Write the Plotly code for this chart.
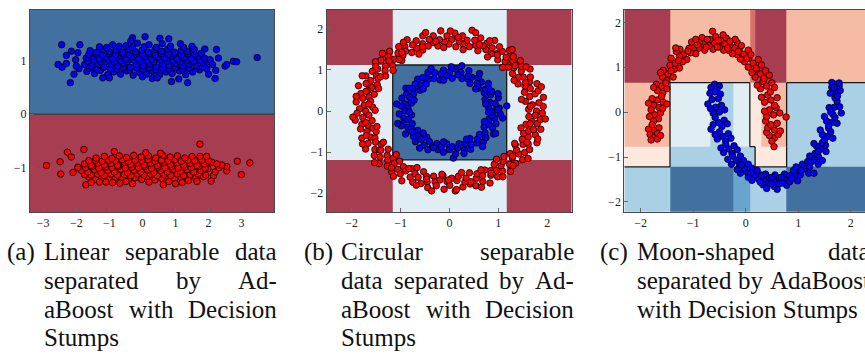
import numpy as np
import plotly.graph_objects as go

W, H = 865, 360

# ---------------------------------------------------------------- data
# (a) linearly separable blobs: (x, y) samples
lin_blue = [
    (-1.68, 0.80), (-1.45, 0.76), (-1.27, 0.82), (-1.05, 0.74), (-0.86, 0.79), (-0.66, 0.75), (-0.47, 0.81),
    (-0.28, 0.73), (-0.08, 0.78), (0.12, 0.75), (0.31, 0.80), (0.52, 0.74), (0.71, 0.79), (0.90, 0.76),
    (1.12, 0.81), (1.31, 0.74), (1.52, 0.79), (1.73, 0.83), (1.95, 0.85),
    (-1.60, 0.86), (-1.38, 0.84), (-1.18, 0.87), (-0.97, 0.85), (-0.77, 0.84), (-0.57, 0.87), (-0.38, 0.83),
    (-0.18, 0.86), (0.02, 0.84), (0.21, 0.87), (0.41, 0.83), (0.61, 0.86), (0.80, 0.84), (1.00, 0.87),
    (1.21, 0.84), (1.41, 0.86), (1.62, 0.85), (1.82, 0.88),
    (-1.75, 0.93), (-1.56, 0.90), (-1.36, 0.95), (-1.16, 0.89), (-0.95, 0.93), (-0.76, 0.90), (-0.57, 0.95),
    (-0.37, 0.88), (-0.18, 0.93), (0.02, 0.90), (0.22, 0.94), (0.42, 0.89), (0.62, 0.93), (0.81, 0.91),
    (1.02, 0.95), (1.22, 0.90), (1.42, 0.94), (1.62, 0.91), (1.84, 0.96),
    (-1.65, 0.99), (-1.45, 1.00), (-1.25, 0.98), (-1.05, 1.01), (-0.85, 0.98), (-0.65, 1.00), (-0.46, 0.98),
    (-0.26, 1.01), (-0.06, 0.99), (0.14, 1.00), (0.34, 0.98), (0.54, 1.01), (0.74, 0.99), (0.94, 1.00),
    (1.14, 0.98), (1.34, 1.01), (1.55, 0.99), (1.76, 1.00), (1.97, 0.98),
    (-1.70, 1.05), (-1.50, 1.08), (-1.30, 1.03), (-1.10, 1.07), (-0.90, 1.04), (-0.70, 1.09), (-0.50, 1.03),
    (-0.31, 1.07), (-0.11, 1.04), (0.08, 1.08), (0.28, 1.03), (0.48, 1.07), (0.67, 1.05), (0.87, 1.09),
    (1.07, 1.03), (1.27, 1.06), (1.47, 1.04), (1.67, 1.08), (1.88, 1.05),
    (-1.62, 1.12), (-1.42, 1.13), (-1.21, 1.11), (-1.01, 1.13), (-0.81, 1.12), (-0.61, 1.13), (-0.41, 1.11),
    (-0.21, 1.13), (0.00, 1.12), (0.19, 1.13), (0.39, 1.11), (0.58, 1.13), (0.78, 1.12), (0.98, 1.13),
    (1.18, 1.11), (1.38, 1.13), (1.58, 1.12), (1.78, 1.14),
    (-1.58, 1.19), (-1.38, 1.16), (-1.19, 1.21), (-0.99, 1.17), (-0.80, 1.20), (-0.60, 1.16), (-0.41, 1.22),
    (-0.21, 1.17), (-0.01, 1.20), (0.18, 1.16), (0.38, 1.21), (0.58, 1.18), (0.77, 1.22), (0.97, 1.16),
    (1.17, 1.19), (1.37, 1.17), (1.57, 1.21),
    (-1.30, 1.26), (-1.08, 1.25), (-0.70, 1.27), (-0.30, 1.25), (0.05, 1.26), (0.42, 1.25), (0.85, 1.27),
    (1.25, 1.25), (1.50, 1.27),
    (-2.55, 0.93), (-2.44, 1.30), (-2.43, 0.88), (-2.30, 0.95), (-2.18, 0.59), (-2.15, 1.18), (-2.07, 0.75),
    (-2.02, 1.02), (-1.89, 1.30), (-1.92, 0.85), (-0.30, 1.43), (0.08, 1.45), (0.53, 1.42), (0.80, 1.41),
    (1.15, 1.32), (0.88, 0.61), (1.37, 0.59), (1.89, 1.22), (2.24, 1.21), (2.05, 1.02), (2.12, 0.93),
    (2.20, 0.67), (2.22, 0.82), (2.50, 0.90), (2.55, 0.93), (2.75, 0.99), (2.85, 0.98), (3.47, 1.06),
    (-1.00, 0.68), (0.00, 0.70), (-0.90, 1.30), (-0.50, 1.28), (0.20, 1.30), (0.60, 1.32), (-1.20, 0.68),
    (0.30, 0.67), (1.10, 0.66), (-0.15, 1.33), (-0.35, 1.37), (0.45, 0.68),
    (-2.30, 1.10), (-2.00, 0.90), (-1.95, 1.15), (2.00, 0.75), (2.30, 1.05),
]
lin_red = [
    (-1.62, -1.18), (-1.42, -1.22), (-1.22, -1.19), (-1.02, -1.23), (-0.82, -1.18), (-0.62, -1.21),
    (-0.42, -1.24), (-0.22, -1.19), (-0.02, -1.22), (0.18, -1.18), (0.38, -1.23), (0.58, -1.20),
    (0.78, -1.17), (0.98, -1.22), (1.18, -1.19), (1.40, -1.16), (1.62, -1.20), (1.85, -1.17),
    (-1.75, -1.13), (-1.55, -1.14), (-1.35, -1.12), (-1.15, -1.15), (-0.95, -1.12), (-0.75, -1.14),
    (-0.55, -1.13), (-0.35, -1.15), (-0.15, -1.12), (0.05, -1.14), (0.25, -1.12), (0.45, -1.15),
    (0.65, -1.13), (0.85, -1.14), (1.05, -1.12), (1.25, -1.15), (1.45, -1.13), (1.68, -1.12),
    (1.92, -1.14), (2.15, -1.15),
    (-1.85, -1.05), (-1.65, -1.08), (-1.45, -1.04), (-1.25, -1.09), (-1.05, -1.05), (-0.85, -1.08),
    (-0.65, -1.03), (-0.45, -1.09), (-0.25, -1.05), (-0.05, -1.08), (0.15, -1.04), (0.35, -1.09),
    (0.55, -1.05), (0.75, -1.08), (0.95, -1.03), (1.15, -1.07), (1.35, -1.04), (1.55, -1.08),
    (1.75, -1.05), (1.98, -1.02), (2.20, -1.08),
    (-1.95, -0.99), (-1.72, -1.00), (-1.52, -0.98), (-1.32, -1.01), (-1.12, -0.99), (-0.92, -1.00),
    (-0.72, -0.98), (-0.52, -1.01), (-0.32, -0.99), (-0.12, -1.00), (0.08, -0.98), (0.28, -1.01),
    (0.48, -0.99), (0.68, -1.00), (0.88, -0.98), (1.08, -1.01), (1.28, -0.99), (1.48, -1.00),
    (1.70, -0.98), (1.90, -1.01), (2.32, -1.00),
    (-1.75, -0.93), (-1.55, -0.96), (-1.35, -0.91), (-1.15, -0.95), (-0.95, -0.92), (-0.75, -0.96),
    (-0.55, -0.90), (-0.35, -0.94), (-0.15, -0.91), (0.05, -0.95), (0.25, -0.92), (0.45, -0.96),
    (0.65, -0.90), (0.85, -0.94), (1.05, -0.91), (1.25, -0.95), (1.45, -0.92), (1.65, -0.96),
    (1.87, -0.93), (2.10, -0.90),
    (-1.62, -0.87), (-1.42, -0.86), (-1.22, -0.88), (-1.02, -0.86), (-0.82, -0.87), (-0.62, -0.85),
    (-0.42, -0.88), (-0.22, -0.86), (-0.02, -0.87), (0.18, -0.85), (0.38, -0.88), (0.58, -0.86),
    (0.78, -0.87), (0.98, -0.85), (1.18, -0.88), (1.38, -0.86), (1.58, -0.87), (1.80, -0.86), (2.00, -0.87),
    (-1.40, -0.82), (-1.15, -0.79), (-0.92, -0.83), (-0.70, -0.78), (-0.48, -0.81), (-0.26, -0.77),
    (-0.04, -0.80), (0.18, -0.78), (0.40, -0.82), (0.62, -0.77), (0.84, -0.80), (1.06, -0.78),
    (1.28, -0.82), (1.50, -0.79),
    (-1.30, -1.27), (-0.90, -1.28), (-0.50, -1.26), (0.20, -1.27), (0.80, -1.26), (1.20, -1.28), (1.65, -1.26),
    (-2.90, -0.96), (-2.47, -1.12), (-2.49, -0.89), (-2.27, -0.71), (-2.10, -1.09), (-2.15, -0.80),
    (-1.77, -0.66), (-1.71, -1.32), (1.74, -0.56), (2.87, -0.88), (3.25, -0.91), (2.99, -1.13),
    (2.08, -1.25), (2.55, -1.06), (2.55, -0.98), (2.40, -0.95), (0.63, -1.32), (1.39, -1.24),
    (-0.68, -1.29), (-1.10, -1.27), (1.94, -0.79), (1.74, -0.79), (-0.85, -0.70), (0.10, -0.72),
    (0.55, -0.73), (-1.55, -1.28), (1.00, -1.30), (-0.30, -1.30), (2.25, -0.93), (-1.95, -1.00),
]

# (b) concentric rings, stored as (angle in degrees, radius)
ring_outer = [
    (0, 1.78), (1.4, 1.62), (3.3, 1.92), (5.1, 1.70), (6.2, 1.84), (8.6, 1.57), (9.8, 1.95), (12.1, 1.68),
    (13.4, 1.80), (15.2, 1.88), (16.5, 1.60), (18.3, 1.74), (20.4, 1.91), (21.6, 1.66), (23.5, 1.79),
    (25.2, 1.55), (26.6, 1.85), (28.7, 1.72), (30.1, 1.63), (31.8, 1.94), (33.5, 1.76), (35.3, 1.58),
    (36.4, 1.83), (38.6, 1.69), (40.2, 1.90), (41.5, 1.61), (43.3, 1.78), (45.4, 1.86), (46.7, 1.66),
    (48.5, 1.75), (50.3, 1.92), (51.6, 1.59), (53.4, 1.81), (55.2, 1.70), (56.8, 1.87), (58.3, 1.64),
    (60.4, 1.77), (61.7, 1.95), (63.5, 1.67), (65.1, 1.82), (66.6, 1.73), (68.4, 1.58), (70.2, 1.89),
    (71.5, 1.69), (73.3, 1.80), (75.4, 1.62), (76.8, 2.02), (78.2, 1.76), (80.5, 1.66), (81.7, 1.85),
    (83.4, 1.71), (85.2, 1.57), (86.6, 1.90), (88.5, 1.74), (90.3, 1.63), (91.6, 1.83), (93.5, 1.68),
    (95.2, 1.96), (96.7, 1.75), (98.4, 1.60), (100.3, 1.86), (101.5, 1.70), (103.4, 1.79), (105.3, 1.64),
    (106.6, 1.91), (108.5, 1.73), (110.2, 1.58), (111.7, 1.84), (113.6, 1.67), (115.1, 1.78),
    (116.5, 1.94), (118.4, 1.62), (120.2, 1.81), (121.6, 1.71), (123.5, 1.88), (125.3, 1.65),
    (126.7, 1.76), (128.4, 1.57), (130.1, 1.90), (131.7, 1.69), (133.5, 1.82), (135.2, 1.74),
    (136.6, 1.60), (138.5, 1.87), (140.3, 1.70), (141.6, 1.93), (143.4, 1.64), (145.1, 1.79),
    (146.8, 1.56), (148.5, 1.85), (150.2, 1.72), (151.6, 1.66), (153.4, 1.91), (155.3, 1.77),
    (156.6, 1.61), (158.5, 1.83), (160.2, 1.69), (161.7, 1.96), (163.4, 1.74), (165.2, 1.59),
    (166.8, 1.86), (168.3, 1.68), (170.1, 1.80), (171.6, 1.63), (173.4, 1.92), (175.3, 1.75),
    (176.7, 1.57), (178.4, 1.84), (180.2, 1.71), (181.6, 1.89), (183.5, 1.65), (185.2, 1.78),
    (186.6, 1.94), (188.4, 1.60), (190.3, 1.82), (191.7, 1.70), (193.5, 1.87), (195.1, 1.62),
    (196.6, 1.76), (198.5, 1.58), (200.2, 1.91), (201.6, 1.73), (203.4, 1.66), (205.3, 1.84),
    (206.7, 1.69), (208.4, 1.95), (210.2, 1.61), (211.6, 1.79), (213.5, 1.72), (215.2, 1.88),
    (216.6, 1.56), (218.4, 1.81), (220.3, 1.67), (221.7, 1.93), (223.5, 1.74), (225.1, 1.63),
    (226.6, 1.85), (228.5, 1.70), (230.2, 1.59), (231.6, 1.90), (233.4, 1.77), (235.3, 1.65),
    (236.7, 1.83), (238.4, 1.71), (240.2, 1.96), (241.6, 1.60), (243.5, 1.80), (245.2, 1.68),
    (246.6, 1.89), (248.4, 1.74), (250.3, 1.57), (251.7, 1.86), (253.5, 1.66), (255.2, 1.79),
    (256.6, 1.92), (258.5, 1.62), (260.3, 1.75), (261.6, 1.84), (263.4, 1.69), (265.2, 1.58),
    (266.7, 1.91), (268.4, 1.72), (270.2, 1.81), (271.6, 1.64), (273.5, 1.95), (275.2, 1.70),
    (276.6, 1.60), (278.5, 1.87), (280.3, 1.76), (281.7, 1.67), (283.4, 1.83), (285.2, 1.56),
    (286.6, 1.90), (288.5, 1.73), (290.2, 1.63), (291.6, 1.85), (293.4, 1.71), (295.3, 1.94),
    (296.7, 1.61), (298.4, 1.78), (300.2, 1.68), (301.6, 1.88), (303.5, 1.74), (305.2, 1.59),
    (306.6, 1.82), (308.4, 1.70), (310.3, 1.93), (311.7, 1.65), (313.5, 1.79), (315.2, 1.57),
    (316.6, 1.86), (318.4, 1.72), (320.2, 1.62), (321.6, 1.91), (323.5, 1.76), (325.3, 1.67),
    (326.7, 1.84), (328.4, 1.58), (330.2, 1.89), (331.6, 1.71), (333.4, 1.80), (335.2, 1.64),
    (336.6, 1.95), (338.5, 1.73), (340.3, 1.61), (341.7, 1.85), (343.4, 1.69), (345.2, 1.78),
    (346.6, 1.92), (348.4, 1.60), (350.3, 1.82), (351.6, 1.70), (353.5, 1.87), (355.2, 1.63),
    (356.6, 1.76), (358.4, 1.90),
    (4.0, 1.66), (10.8, 1.50), (17.4, 1.97), (24.0, 1.70), (29.5, 1.52), (34.4, 1.90), (39.5, 1.74),
    (44.3, 1.52), (49.4, 1.97), (54.3, 1.68), (59.4, 1.53), (64.3, 1.90), (69.3, 1.73), (74.3, 1.98),
    (79.4, 1.52), (84.3, 1.80), (89.4, 1.95), (94.3, 1.55), (99.4, 1.72), (104.3, 1.97), (109.4, 1.66),
    (114.3, 1.52), (119.4, 1.92), (124.3, 1.73), (129.4, 1.62), (134.3, 1.96), (139.4, 1.52),
    (144.3, 1.86), (149.4, 1.64), (154.3, 1.98), (159.4, 1.55), (164.3, 1.77), (169.4, 1.94),
    (174.3, 1.66), (179.4, 1.52), (184.3, 1.98), (189.4, 1.73), (194.3, 1.53), (199.4, 1.80),
    (204.3, 1.95), (209.4, 1.55), (214.3, 1.70), (219.4, 1.98), (224.3, 1.52), (229.4, 1.82),
    (234.3, 1.96), (239.4, 1.63), (244.3, 1.53), (249.4, 1.93), (254.3, 1.72), (259.4, 1.98),
    (264.3, 1.55), (269.4, 1.68), (274.3, 1.92), (279.4, 1.52), (284.3, 1.78), (289.4, 1.97),
    (294.3, 1.57), (299.4, 1.74), (304.3, 1.94), (309.4, 1.52), (314.3, 1.86), (319.4, 1.70),
    (324.3, 1.98), (329.4, 1.55), (334.3, 1.76), (339.4, 1.93), (344.3, 1.52), (349.4, 1.68),
    (354.3, 1.97),
]
ring_inner = [
    (0, 0.90), (4, 1.02), (6, 1.18), (7, 0.80), (11, 0.95), (14, 0.86), (18, 1.05), (21, 0.78), (25, 0.93),
    (29, 0.99), (32, 0.84), (36, 0.91), (40, 1.04), (43, 0.81), (47, 0.96), (50, 0.88), (54, 1.01),
    (58, 0.79), (61, 0.94), (65, 0.87), (68, 1.06), (72, 0.83), (76, 0.97), (77, 1.13), (79, 0.90),
    (83, 1.03), (86, 0.80), (90, 0.95), (94, 0.86), (97, 1.00), (101, 0.92), (104, 0.78), (108, 0.98),
    (112, 0.85), (115, 1.04), (119, 0.89), (122, 0.94), (126, 0.81), (130, 1.01), (133, 0.87),
    (137, 0.96), (140, 0.79), (144, 0.92), (148, 1.05), (151, 0.84), (155, 0.97), (158, 0.88),
    (162, 1.02), (166, 0.80), (169, 0.93), (173, 0.99), (176, 0.85), (180, 0.91), (184, 1.03),
    (187, 0.78), (191, 0.95), (194, 0.87), (198, 1.00), (200, 1.05), (202, 0.82), (205, 0.94),
    (209, 0.89), (212, 1.06), (216, 0.80), (220, 0.96), (223, 0.86), (227, 1.02), (230, 0.90),
    (234, 0.79), (238, 0.98), (241, 0.85), (245, 1.04), (248, 0.92), (252, 0.83), (256, 0.97),
    (259, 0.88), (263, 1.01), (266, 0.80), (270, 0.94), (274, 1.15), (274, 0.87), (277, 1.05),
    (281, 0.91), (284, 0.82), (288, 0.99), (292, 0.86), (295, 1.03), (299, 0.93), (302, 0.79),
    (306, 0.96), (310, 0.89), (313, 1.02), (317, 0.84), (320, 0.95), (324, 0.90), (328, 1.06),
    (331, 0.81), (335, 0.97), (338, 0.87), (342, 1.00), (346, 0.83), (349, 0.94), (353, 0.88),
    (356, 1.04),
    (2, 0.98), (13, 0.76), (23, 1.08), (34, 0.97), (45, 0.76), (56, 1.10), (66, 0.93), (88, 1.08),
    (99, 0.76), (110, 1.10), (124, 0.98), (135, 0.76), (146, 0.99), (160, 0.77), (171, 1.09), (182, 0.82),
    (196, 1.10), (214, 0.92), (225, 0.76), (236, 1.09), (250, 0.95), (261, 0.76), (286, 1.08), (297, 0.77),
    (308, 1.10), (319, 0.99), (330, 1.09), (340, 0.76), (351, 1.10), (358, 0.80),
]

# (c) two interleaving moons: (x, y) samples
moon_red = [
    (0.55, -0.57), (0.45, -0.52), (0.62, -0.50), (0.50, -0.65), (0.40, -0.45), (0.54, -0.77),
    (0.55, -0.40), (0.42, -0.35), (0.66, -0.42), (0.48, -0.28), (0.60, -0.25), (0.38, -0.20),
    (0.53, -0.06), (0.40, -0.10), (0.65, -0.02), (0.45, 0.05), (0.77, -0.11), (0.58, 0.10), (0.36, 0.02),
    (0.48, 0.27), (0.36, 0.22), (0.60, 0.32), (0.42, 0.38), (0.55, 0.15), (0.30, 0.33),
    (0.40, 0.58), (0.28, 0.52), (0.50, 0.65), (0.33, 0.68), (0.47, 0.45), (0.22, 0.60), (0.55, 0.55),
    (0.28, 0.85), (0.18, 0.78), (0.38, 0.92), (0.20, 0.95), (0.35, 0.75), (0.12, 0.88), (0.45, 0.82),
    (0.14, 1.09), (0.05, 1.00), (0.24, 1.17), (0.06, 1.20), (0.20, 0.98), (-0.02, 1.12), (0.30, 1.05),
    (-0.03, 1.29), (-0.10, 1.18), (0.05, 1.38), (-0.12, 1.40), (0.02, 1.20), (-0.16, 1.28), (0.10, 1.28),
    (-0.21, 1.43), (-0.25, 1.30), (-0.16, 1.55), (-0.30, 1.50), (-0.14, 1.35), (-0.33, 1.38),
    (-0.08, 1.48), (-0.20, 1.62),
    (-0.40, 1.52), (-0.42, 1.38), (-0.37, 1.65), (-0.48, 1.60), (-0.34, 1.42), (-0.50, 1.45),
    (-0.30, 1.58), (-0.43, 1.72),
    (-0.60, 1.55), (-0.62, 1.40), (-0.57, 1.68), (-0.68, 1.62), (-0.54, 1.45), (-0.70, 1.48),
    (-0.52, 1.60), (-0.63, 1.80),
    (-0.80, 1.52), (-0.78, 1.38), (-0.83, 1.66), (-0.88, 1.55), (-0.73, 1.62), (-0.90, 1.42), (-0.75, 1.45),
    (-0.99, 1.43), (-0.95, 1.30), (-1.03, 1.56), (-1.08, 1.42), (-0.92, 1.50), (-1.05, 1.32), (-0.95, 1.62),
    (-1.18, 1.29), (-1.12, 1.17), (-1.25, 1.40), (-1.26, 1.24), (-1.10, 1.36), (-1.20, 1.12), (-1.32, 1.35),
    (-1.34, 1.09), (-1.26, 0.98), (-1.42, 1.20), (-1.44, 1.04), (-1.28, 1.15), (-1.36, 0.95), (-1.33, 1.43),
    (-1.48, 0.85), (-1.38, 0.78), (-1.57, 0.93), (-1.58, 0.78), (-1.42, 0.92), (-1.50, 0.70), (-1.62, 0.88),
    (-1.60, 0.58), (-1.50, 0.52), (-1.70, 0.62), (-1.68, 0.48), (-1.52, 0.65), (-1.58, 0.42), (-1.75, 0.55),
    (-1.68, 0.27), (-1.57, 0.22), (-1.78, 0.30), (-1.75, 0.15), (-1.60, 0.35), (-1.65, 0.10), (-1.85, 0.20),
    (-1.50, 0.18),
    (-1.73, -0.06), (-1.62, -0.02), (-1.83, -0.10), (-1.80, 0.05), (-1.66, -0.15), (-1.75, -0.20),
    (-1.58, 0.08),
    (-1.75, -0.40), (-1.65, -0.35), (-1.85, -0.38), (-1.78, -0.28), (-1.68, -0.48), (-1.82, -0.50),
    (-1.75, -0.57), (-1.68, -0.60), (-1.80, -0.62), (-1.62, -0.52),
]
moon_blue = [
    (-0.59, 0.62), (-0.50, 0.58), (-0.66, 0.55), (-0.55, 0.50),
    (-0.59, 0.45), (-0.48, 0.40), (-0.68, 0.42), (-0.52, 0.30), (-0.64, 0.28),
    (-0.57, 0.11), (-0.46, 0.15), (-0.67, 0.08), (-0.50, 0.00), (-0.62, -0.02), (-0.40, 0.05), (-0.72, 0.18),
    (-0.52, -0.23), (-0.41, -0.18), (-0.62, -0.28), (-0.45, -0.32), (-0.58, -0.12), (-0.35, -0.26),
    (-0.66, -0.38),
    (-0.44, -0.54), (-0.33, -0.48), (-0.54, -0.60), (-0.38, -0.64), (-0.50, -0.44), (-0.28, -0.58),
    (-0.58, -0.50),
    (-0.32, -0.82), (-0.22, -0.75), (-0.42, -0.90), (-0.26, -0.92), (-0.38, -0.72), (-0.16, -0.84),
    (-0.47, -0.80),
    (-0.18, -1.07), (-0.10, -0.98), (-0.27, -1.16), (-0.12, -1.16), (-0.25, -0.98), (-0.04, -1.08),
    (-0.34, -1.05),
    (-0.02, -1.26), (0.05, -1.16), (-0.10, -1.36), (0.04, -1.36), (-0.08, -1.18), (0.12, -1.25),
    (-0.16, -1.28),
    (0.17, -1.41), (0.22, -1.30), (0.12, -1.52), (0.25, -1.50), (0.10, -1.35), (0.30, -1.40), (0.05, -1.45),
    (0.36, -1.50), (0.38, -1.38), (0.33, -1.62), (0.44, -1.58), (0.30, -1.42), (0.46, -1.46), (0.28, -1.56),
    (0.40, -1.70),
    (0.56, -1.53), (0.56, -1.40), (0.55, -1.66), (0.63, -1.60), (0.50, -1.45), (0.64, -1.47), (0.48, -1.60),
    (0.60, -1.72),
    (0.76, -1.50), (0.74, -1.38), (0.78, -1.63), (0.84, -1.55), (0.70, -1.58), (0.84, -1.42), (0.68, -1.45),
    (0.95, -1.41), (0.91, -1.30), (0.99, -1.53), (1.04, -1.40), (0.88, -1.48), (1.02, -1.30), (0.96, -1.22),
    (1.14, -1.26), (1.08, -1.16), (1.20, -1.36), (1.22, -1.22), (1.06, -1.30), (1.18, -1.10), (1.30, -1.36),
    (1.30, -1.07), (1.22, -0.98), (1.38, -1.16), (1.39, -1.00), (1.24, -1.12), (1.32, -0.92), (1.46, -1.08),
    (1.44, -0.82), (1.35, -0.76), (1.53, -0.88), (1.52, -0.74), (1.38, -0.88), (1.46, -0.68), (1.30, -0.70),
    (1.56, -0.54), (1.46, -0.50), (1.66, -0.58), (1.62, -0.44), (1.50, -0.62), (1.58, -0.36), (1.42, -0.40),
    (1.64, -0.23), (1.54, -0.20), (1.74, -0.25), (1.70, -0.12), (1.58, -0.30), (1.66, -0.05), (1.50, -0.10),
    (1.69, 0.11), (1.59, 0.10), (1.79, 0.12), (1.74, 0.24), (1.62, 0.00), (1.70, 0.32), (1.82, -0.02),
    (1.71, 0.45), (1.61, 0.42), (1.80, 0.48), (1.75, 0.36), (1.64, 0.55), (1.78, 0.58),
    (1.71, 0.62), (1.64, 0.66), (1.78, 0.65), (1.68, 0.54),
]

# decision-function levels, 0 = strongly red ... 7 = strongly blue
level_colors = ["#a73d51", "#d7706c", "#f5bba5", "#fde8de",
                "#e0edf3", "#aad0e5", "#67a5cf", "#42709f"]

# stump partitions: cell edges (x, y) and level per cell (rows bottom -> top)
a_xe, a_ye = [-3.40, 3.98], [-1.83, 0.0, 1.95]
a_z = [[0], [7]]
b_xe, b_ye = [-2.51, -1.16, 1.17, 2.50], [-2.46, -1.19, 1.12, 2.46]
b_z = [[0, 4, 0], [4, 7, 4], [0, 4, 0]]
c_xe = [-2.31, -1.44, -0.67, -0.24, 0.08, 0.18, 0.30, 0.78, 2.40]
c_ye = [-2.23, -1.22, -0.77, 0.655, 2.28]
c_z = [[5, 7, 7, 6, 5, 5, 5, 7],
       [3, 5, 5, 5, 5, 3, 3, 5],
       [2, 4, 5, 4, 3, 3, 2, 5],
       [0, 2, 2, 2, 1, 0, 0, 2]]

x_ticks = {"a": [-3, -2, -1, 0, 1, 2, 3], "b": [-2, -1, 0, 1, 2], "c": [-2, -1, 0, 1, 2]}
y_ticks = {"a": [-1, 0, 1], "b": [-2, -1, 0, 1, 2], "c": [-2, -1, 0, 1, 2]}

captions = {
    "a": ["Linear separable data", "separated by Ad-", "aBoost with Decision", "Stumps"],
    "b": ["Circular separable", "data separated by Ad-", "aBoost with Decision", "Stumps"],
    "c": ["Moon-shaped data", "separated by AdaBoost", "with Decision Stumps"],
}

# ---------------------------------------------------------------- helpers
def step_scale(colors):
    n = len(colors)
    cs = []
    for i, c in enumerate(colors):
        cs += [[i / n, c], [(i + 1) / n, c]]
    return cs


def boundary(xe, ye, z, thr):
    xs, ys = [], []
    nr, nc = len(z), len(z[0])
    for r in range(nr):
        for c in range(nc):
            side = z[r][c] >= thr
            if c + 1 < nc and (z[r][c + 1] >= thr) != side:
                xs += [xe[c + 1], xe[c + 1], None]
                ys += [ye[r], ye[r + 1], None]
            if r + 1 < nr and (z[r + 1][c] >= thr) != side:
                xs += [xe[c], xe[c + 1], None]
                ys += [ye[r + 1], ye[r + 1], None]
    return xs, ys


def polar_xy(pts):
    ang = np.radians([p[0] for p in pts])
    rad = np.array([p[1] for p in pts])
    return rad * np.cos(ang), rad * np.sin(ang)


def split(pts):
    return [p[0] for p in pts], [p[1] for p in pts]


# Times / Liberation Serif advance widths (per 1000 em)
ADV = {"a": 444, "b": 500, "c": 444, "d": 500, "e": 444, "h": 500, "i": 278, "k": 500, "l": 278,
       "m": 778, "n": 500, "o": 500, "p": 500, "r": 333, "s": 389, "t": 278, "u": 500, "w": 722,
       "y": 500, "A": 722, "B": 667, "C": 667, "D": 722, "L": 611, "M": 889, "S": 556, "-": 333}


def text_w(s, size):
    return sum(ADV.get(ch, 500) for ch in s) * size / 1000.0


# ---------------------------------------------------------------- figure
fig = go.Figure()
cscale = step_scale(level_colors)

panels = [
    ("a", "x", "y", a_xe, a_ye, a_z, 4, (30, 274), (-3.40, 3.98), (-1.83, 1.95)),
    ("b", "x2", "y2", b_xe, b_ye, b_z, 6, (326.7, 571.7), (-2.51, 2.50), (-2.46, 2.46)),
    ("c", "x3", "y3", c_xe, c_ye, c_z, 4, (624.3, 865), (-2.31, 2.272), (-2.225, 2.274)),
]
pt_top, pt_bot = 10, 212

samples = {
    "a": (split(lin_red), split(lin_blue)),
    "b": (polar_xy(ring_outer), polar_xy(ring_inner)),
    "c": (split(moon_red), split(moon_blue)),
}

tick_font = dict(family="Liberation Serif", size=12, color="#222")

for key, xa, ya, xe, ye, z, thr, (px0, px1), xr, yr in panels:
    fig.add_trace(go.Heatmap(x=xe, y=ye, z=z, colorscale=cscale, zmin=-0.5, zmax=7.5,
                             showscale=False, hoverinfo="skip", xaxis=xa, yaxis=ya))
    bx, by = boundary(xe, ye, z, thr)
    fig.add_trace(go.Scatter(x=bx, y=by, mode="lines", xaxis=xa, yaxis=ya, hoverinfo="skip",
                             line=dict(color="#1a1a1a" if key != "a" else "#3a3a3a", width=1.3)))
    (rx, ry), (bx2, by2) = samples[key]
    for sx, sy, col in ((rx, ry, "#ff0000"), (bx2, by2, "#0000ff")):
        fig.add_trace(go.Scatter(x=sx, y=sy, mode="markers", xaxis=xa, yaxis=ya, hoverinfo="skip",
                                 marker=dict(size=6.5, color=col, line=dict(color="black", width=0.8))))

    axis_common = dict(showgrid=False, zeroline=False, showline=True, linecolor="#4a4a4a",
                       linewidth=1, ticks="inside", ticklen=4, tickcolor="#666", tickwidth=1,
                       tickfont=tick_font)
    xname = "xaxis" if xa == "x" else "xaxis" + xa[1:]
    yname = "yaxis" if ya == "y" else "yaxis" + ya[1:]
    fig.update_layout(**{
        xname: dict(axis_common, domain=[px0 / W, min(px1 / W, 1.0)], range=list(xr),
                    tickvals=x_ticks[key], anchor=ya, mirror=True),
        yname: dict(axis_common, domain=[1 - pt_bot / H, 1 - pt_top / H], range=list(yr),
                    tickvals=y_ticks[key], anchor=xa, mirror=(key != "c")),
    })

# captions: hanging label, justified lines, last line left-aligned
cap_size = 25
cap_font = dict(family="Liberation Serif", size=cap_size, color="#111")
cap_left = {"a": 5, "b": 302, "c": 598}
line_y = [252, 280.5, 309, 337.5]
min_gap = 0.25 * cap_size
for key, lines in captions.items():
    lx = cap_left[key]
    x0, x1 = lx + 37, lx + 270
    fig.add_annotation(text="(" + key + ")", x=lx / W, y=1 - line_y[0] / H, xref="paper", yref="paper",
                       xanchor="left", yanchor="middle", showarrow=False, font=cap_font)
    for i, line in enumerate(lines):
        words = line.split(" ")
        last = i == len(lines) - 1
        if last or len(words) == 1:
            pos = [x0]
            ws = [line]
        else:
            widths = [text_w(w, cap_size) for w in words]
            gap = max(min_gap, (x1 - x0 - sum(widths)) / (len(words) - 1))
            pos, cur = [], x0
            for w_ in widths:
                pos.append(cur)
                cur += w_ + gap
            ws = words
        for w_, p in zip(ws, pos):
            fig.add_annotation(text=w_, x=p / W, y=1 - line_y[i] / H, xref="paper", yref="paper",
                               xanchor="left", yanchor="middle", showarrow=False, font=cap_font)

fig.update_layout(width=W, height=H, margin=dict(l=0, r=0, t=0, b=0), showlegend=False,
                  paper_bgcolor="white", plot_bgcolor="white")

fig.write_html("out.html")
